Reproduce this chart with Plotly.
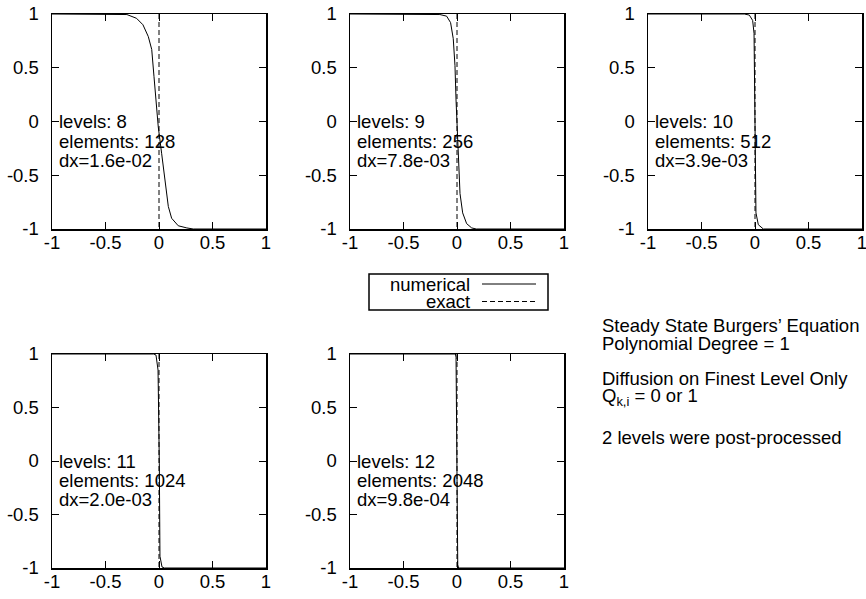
import plotly.graph_objects as go

# ---------------- data ----------------
tick_vals = [-1, -0.5, 0, 0.5, 1]
tick_text = ["-1", "-0.5", "0", "0.5", "1"]

levels = [8, 9, 10, 11, 12]
elements = [128, 256, 512, 1024, 2048]
dx_labels = ["1.6e-02", "7.8e-03", "3.9e-03", "2.0e-03", "9.8e-04"]

x_num_8 = [-1.0, -0.4, -0.3, -0.21, -0.15, -0.1, -0.068, -0.047, -0.028, -0.007,
           0.025, 0.047, 0.063, 0.087, 0.118, 0.18, 0.26, 0.32, 1.0]
y_num_8 = [1.0, 1.0, 0.995, 0.96, 0.90, 0.79, 0.67, 0.42, 0.20, -0.05,
           -0.30, -0.48, -0.65, -0.79, -0.90, -0.97, -0.99, -1.0, -1.0]

x_num_9 = [-1.0, -0.3, -0.16, -0.097, -0.06, -0.035, -0.019, -0.009, 0.003,
           0.016, 0.028, 0.053, 0.09, 0.137, 0.18, 1.0]
y_num_9 = [1.0, 1.0, 0.995, 0.98, 0.92, 0.77, 0.52, 0.2, -0.1,
           -0.42, -0.67, -0.85, -0.95, -0.99, -1.0, -1.0]

x_num_10 = [-1.0, -0.1, -0.053, -0.022, -0.009, 0.0, 0.009, 0.031, 0.078, 1.0]
y_num_10 = [1.0, 1.0, 0.99, 0.94, 0.82, -0.1, -0.85, -0.96, -1.0, -1.0]

x_num_11 = [-1.0, -0.05, -0.028, -0.009, 0.003, 0.009, 0.028, 0.05, 1.0]
y_num_11 = [1.0, 1.0, 0.99, 0.85, -0.02, -0.89, -0.99, -1.0, -1.0]

x_num_12 = [-1.0, -0.015, -0.009, 0.0, 0.007, 0.015, 1.0]
y_num_12 = [1.0, 1.0, 0.97, 0.0, -0.97, -1.0, -1.0]

x_exact = [0.0, 0.0]
y_exact = [1.0, -1.0]

info_lines = [
    "Steady State Burgers\u2019 Equation",
    "Polynomial Degree = 1",
    "Diffusion on Finest Level Only",
    "Q<sub>k,i</sub> = 0 or 1",
    "2 levels were post-processed",
]
legend_names = ["numerical", "exact"]

# ---------------- layout helpers ----------------
W, H = 866, 599
FONT = "Liberation Sans, Arial, Helvetica, sans-serif"
FS = 18.5


def px(v):
    return v / W


def py(v):
    return 1 - v / H


num_x = [x_num_8, x_num_9, x_num_10, x_num_11, x_num_12]
num_y = [y_num_8, y_num_9, y_num_10, y_num_11, y_num_12]

# panel pixel boxes (left, right, top, bottom)
boxes = [
    (52, 266, 14, 229),
    (350, 564, 14, 229),
    (648, 862, 14, 229),
    (52, 266, 354, 568),
    (350, 564, 354, 568),
]

fig = go.Figure()
layout = dict(
    width=W, height=H, autosize=False,
    margin=dict(l=0, r=0, t=0, b=0, pad=0),
    paper_bgcolor="white", plot_bgcolor="white",
    showlegend=False,
    font=dict(family=FONT, size=FS, color="black"),
)
annotations = []
shapes = []

for i, (l, r, t, b) in enumerate(boxes):
    k = "" if i == 0 else str(i + 1)
    xa, ya = "x" + k, "y" + k
    fig.add_trace(go.Scatter(x=num_x[i], y=num_y[i], mode="lines",
                             line=dict(color="black", width=1),
                             xaxis=xa, yaxis=ya, name=legend_names[0]))
    fig.add_trace(go.Scatter(x=x_exact, y=y_exact, mode="lines",
                             line=dict(color="black", width=1, dash="5px,3px"),
                             xaxis=xa, yaxis=ya, name=legend_names[1]))
    common = dict(range=[-1, 1], tickvals=tick_vals, ticktext=tick_text,
                  ticks="inside", ticklen=7, tickwidth=1, tickcolor="black",
                  showline=True, linecolor="black", linewidth=1.5,
                  mirror="ticks", showgrid=False, zeroline=False,
                  fixedrange=True, automargin=False, ticklabeloverflow="allow",
                  tickfont=dict(family=FONT, size=FS, color="black"))
    layout["xaxis" + k] = dict(common, domain=[px(l), px(r)], anchor=ya,
                               ticklabelstandoff=-4)
    layout["yaxis" + k] = dict(common, domain=[py(b), py(t)], anchor=xa,
                               ticklabelstandoff=8)
    texts = [f"levels: {levels[i]}", f"elements: {elements[i]}", f"dx={dx_labels[i]}"]
    ys = [0.0, -0.185, -0.36]
    for txt, yy in zip(texts, ys):
        annotations.append(dict(x=-0.94, y=yy, xref=xa, yref=ya, text=txt,
                                showarrow=False, xanchor="left", yanchor="middle",
                                font=dict(family=FONT, size=FS, color="black"),
                                borderpad=0))

# right-hand information text
info_y = [325, 343, 378, 397, 437]
for txt, yv in zip(info_lines, info_y):
    annotations.append(dict(x=px(601), y=py(yv), xref="paper", yref="paper",
                            text=txt, showarrow=False, xanchor="left",
                            yanchor="middle", borderpad=0,
                            font=dict(family=FONT, size=FS, color="black")))

# manual gnuplot-style legend
shapes.append(dict(type="rect", xref="paper", yref="paper",
                   x0=px(369), x1=px(548), y0=py(310), y1=py(274),
                   line=dict(color="black", width=1.5), fillcolor="rgba(0,0,0,0)"))
leg_y = [284, 301.5]
leg_dash = ["solid", "5px,3px"]
for name, yv, dsh in zip(legend_names, leg_y, leg_dash):
    annotations.append(dict(x=px(471), y=py(yv), xref="paper", yref="paper",
                            text=name, showarrow=False, xanchor="right",
                            yanchor="middle", borderpad=0,
                            font=dict(family=FONT, size=FS, color="black")))
    shapes.append(dict(type="line", xref="paper", yref="paper",
                       x0=px(482), x1=px(536), y0=py(yv), y1=py(yv),
                       line=dict(color="black", width=1, dash=dsh)))

layout["annotations"] = annotations
layout["shapes"] = shapes
fig.update_layout(**layout)
fig.write_html("out.html",
               config={"displayModeBar": False, "staticPlot": True},
               post_script="document.body.style.margin='0px';"
                           "document.body.style.overflow='hidden';")
